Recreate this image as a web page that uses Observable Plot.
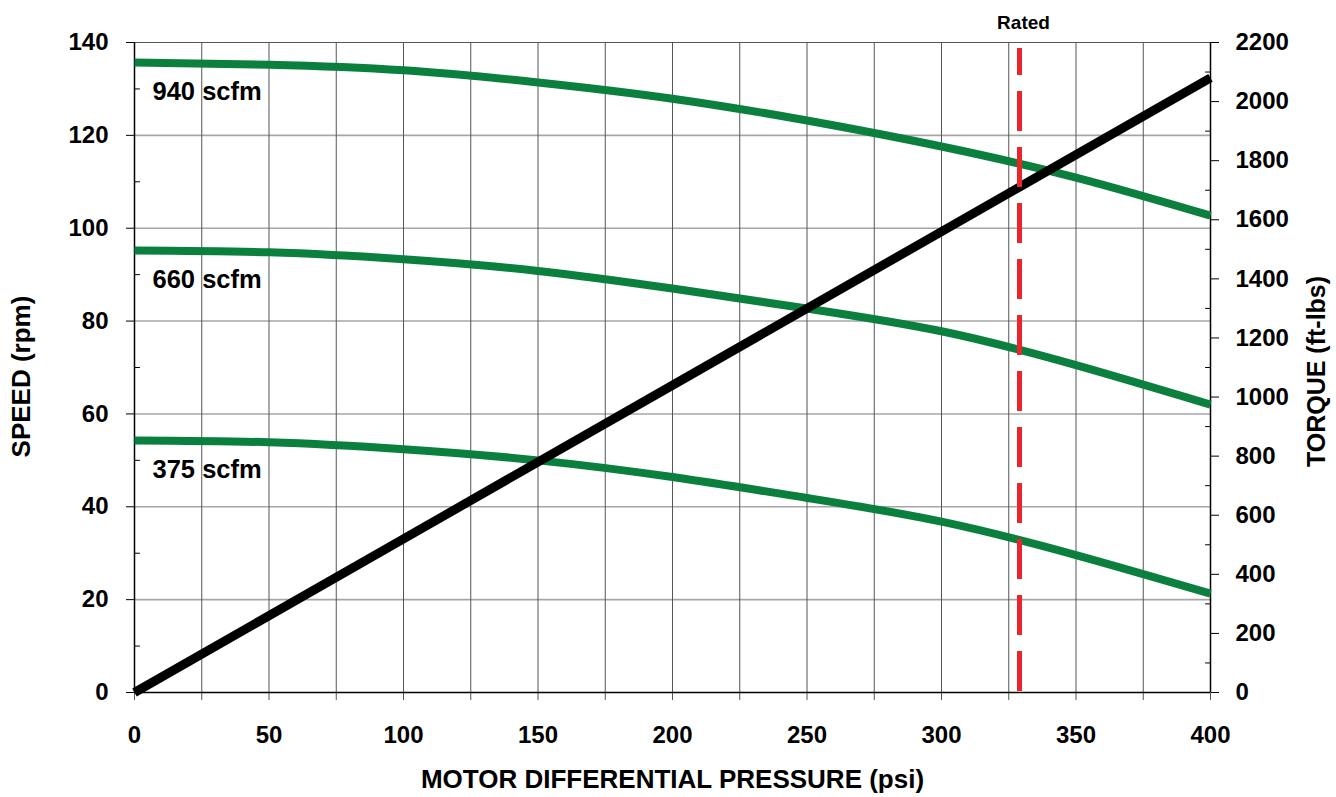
<!DOCTYPE html>
<html><head><meta charset="utf-8">
<script src="https://cdn.jsdelivr.net/npm/d3@7"></script>
<script src="https://cdn.jsdelivr.net/npm/@observablehq/plot@0.6"></script>
<style>body{margin:0;background:#fff;}</style>
</head><body><div id="chart"></div>
<script>
// ---- data ----
const pressure = [0, 50, 100, 150, 200, 250, 300, 350, 400];          // psi
const speed940 = [135.7, 135.2, 134.0, 131.4, 127.9, 123.2, 117.6, 110.9, 102.7]; // rpm
const speed660 = [95.2, 94.8, 93.3, 90.8, 87.0, 82.7, 77.8, 70.5, 62.0];
const speed375 = [54.3, 53.9, 52.4, 50.0, 46.4, 41.9, 36.8, 29.6, 21.3];
const flowLabels = ["940 scfm", "660 scfm", "375 scfm"];
const torquePressure = [0, 100, 200, 300, 400];    // psi
const torque = [0, 520, 1040, 1560, 2080];        // ft-lbs
const ratedPressure = 329;
const ratedLabel = "Rated";
const ratedTop = 138.7;                            // rpm where the dashed line starts

const speedTicks = [0, 20, 40, 60, 80, 100, 120, 140];
const speedMinor = [10, 30, 50, 70, 90, 110, 130];
const torqueTicks = [0, 200, 400, 600, 800, 1000, 1200, 1400, 1600, 1800, 2000, 2200];
const torqueMinor = [100, 300, 500, 700, 900, 1100, 1300, 1500, 1700, 1900, 2100];
const pressureTicks = [0, 25, 50, 75, 100, 125, 150, 175, 200, 225, 250, 275, 300, 325, 350, 375, 400];
const pressureLabelled = [0, 50, 100, 150, 200, 250, 300, 350, 400];

const SPEED_MAX = 140, TORQUE_MAX = 2200;
const toSpeed = t => t * SPEED_MAX / TORQUE_MAX;

// ---- tables ----
const series = [speed940, speed660, speed375];
const curveRows = series.flatMap((s, i) => s.map((v, j) => ({flow: flowLabels[i], p: pressure[j], s: v})));
const labelRows = series.map((s, i) => ({flow: flowLabels[i], p: pressure[0], s: s[0]}));
const torqueRows = torque.map((t, i) => ({p: torquePressure[i], s: toSpeed(t)}));

const GREEN = "#0b7f3e", RED = "#e8262b";
const tickShape = {draw(ctx, l) { ctx.moveTo(0, 0); ctx.lineTo(0, -l); }};

const chart = Plot.plot({
  width: 1336, height: 797,
  marginLeft: 134, marginRight: 126, marginTop: 42, marginBottom: 105,
  style: "font-family: 'Liberation Sans', Arial, sans-serif; font-weight: bold; background: white;",
  x: {domain: [0, 400]},
  y: {domain: [0, SPEED_MAX]},
  marks: [
    // grid
    Plot.ruleY(speedTicks.filter(d => d > 0 && d < SPEED_MAX), {stroke: "#a6a6a6", strokeWidth: 1.6}),
    Plot.ruleX(pressureTicks.filter(d => d > 0 && d < 400), {stroke: "#555", strokeWidth: 1}),
    Plot.ruleY([SPEED_MAX], {stroke: "#555", strokeWidth: 1.2}),
    // curve labels (white boxes added after render)
    Plot.text(labelRows, {x: "p", y: "s", text: "flow", textAnchor: "start", dx: 18, dy: 29,
      fontSize: 25.5, fontWeight: "bold", fill: "#000", ariaLabel: "flow-label"}),
    // axes
    Plot.axisX({ticks: pressureTicks, tickSize: 8, tickPadding: 25, fontSize: 24, fontWeight: "bold",
      stroke: "#555", tickFormat: d => pressureLabelled.includes(d) ? String(d) : "", label: null}),
    Plot.axisY({anchor: "left", ticks: speedTicks, tickSize: 8, tickPadding: 18, fontSize: 24,
      fontWeight: "bold", label: null}),
    Plot.axisY({anchor: "right", ticks: torqueTicks.map(toSpeed), tickSize: 8, tickPadding: 17,
      fontSize: 24, fontWeight: "bold", label: null,
      tickFormat: d => String(Math.round(d * TORQUE_MAX / SPEED_MAX))}),
    Plot.vector(speedMinor, {x: 0, y: d => d, length: 5, rotate: 90, anchor: "start", shape: tickShape, stroke: "#000", strokeWidth: 1}),
    Plot.vector(torqueMinor, {x: 400, y: d => toSpeed(d), length: 5, rotate: -90, anchor: "start", shape: tickShape, stroke: "#000", strokeWidth: 1}),
    // frame
    Plot.ruleX([0, 400], {stroke: "#000", strokeWidth: 1.5}),
    Plot.ruleY([0], {stroke: "#000", strokeWidth: 1.5}),
    // speed curves
    Plot.line(curveRows, {x: "p", y: "s", z: "flow", stroke: GREEN, strokeWidth: 8, curve: "natural", strokeLinecap: "butt"}),
    // torque
    Plot.line(torqueRows, {x: "p", y: "s", stroke: "#000", strokeWidth: 9, strokeLinecap: "butt"}),
    // rated
    Plot.ruleX([ratedPressure], {y1: ratedTop, y2: 0, stroke: RED, strokeWidth: 5, strokeDasharray: "40,16", strokeDashoffset: 13}),
    Plot.text([ratedLabel], {x: ratedPressure, frameAnchor: "top", lineAnchor: "bottom", dy: -14, dx: 4, fontSize: 19, fontWeight: "bold", fill: "#000"}),
    // axis titles
    Plot.text(["SPEED (rpm)"], {frameAnchor: "left", textAnchor: "middle", rotate: -90, dx: -113, dy: 9, fontSize: 26, fontWeight: "bold", fill: "#000"}),
    Plot.text(["TORQUE (ft-lbs)"], {frameAnchor: "right", textAnchor: "middle", rotate: -90, dx: 106, dy: 4, fontSize: 25, fontWeight: "bold", fill: "#000"}),
    Plot.text(["MOTOR DIFFERENTIAL PRESSURE (psi)"], {frameAnchor: "bottom", dy: 95, fontSize: 26, fontWeight: "bold", fill: "#000"})
  ]
});
document.getElementById("chart").appendChild(chart);

// white boxes behind curve labels
const ns = "http://www.w3.org/2000/svg";
chart.querySelectorAll('g[aria-label="flow-label"] text').forEach(t => {
  const b = t.getBBox();
  const r = document.createElementNS(ns, "rect");
  r.setAttribute("x", b.x - 10);
  r.setAttribute("y", b.y - 10);
  r.setAttribute("width", b.width + 22);
  r.setAttribute("height", b.height + 10);
  r.setAttribute("fill", "white");
  const tr = t.getAttribute("transform");
  if (tr) r.setAttribute("transform", tr);
  t.parentNode.insertBefore(r, t);
});
</script>
</body></html>
